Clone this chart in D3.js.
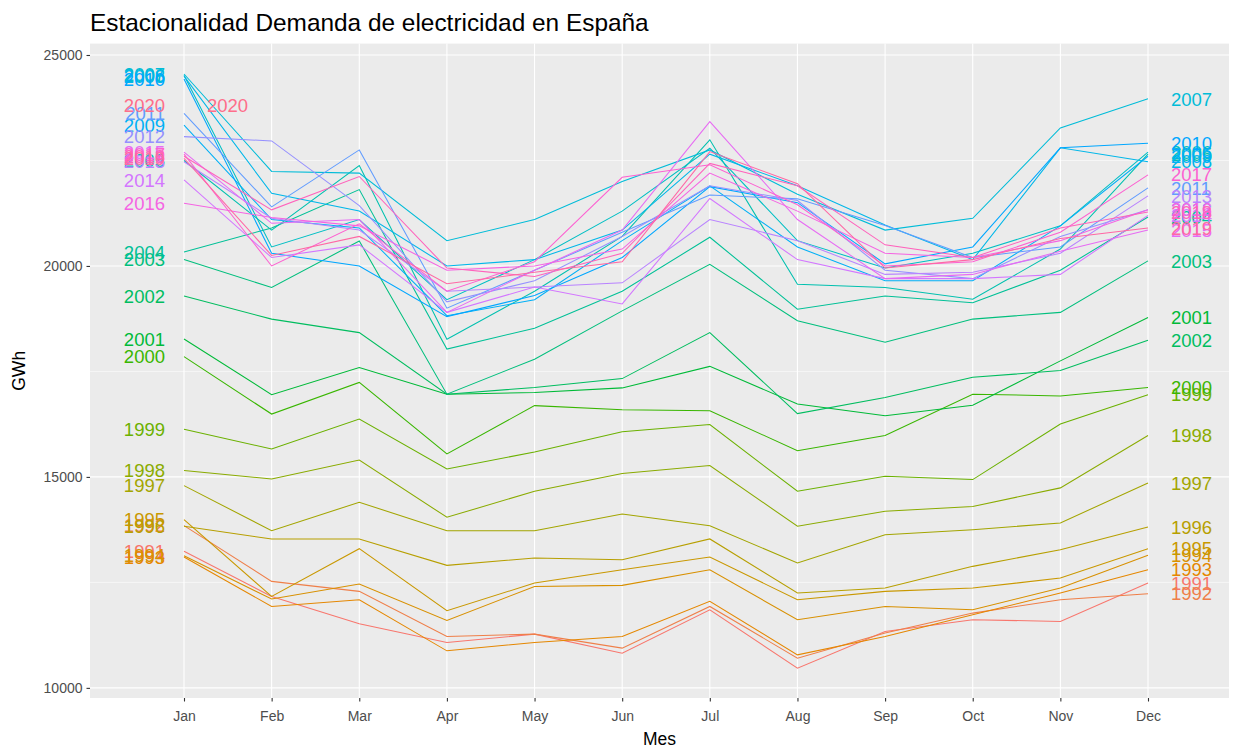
<!DOCTYPE html>
<html>
<head>
<meta charset="utf-8">
<script src="https://cdnjs.cloudflare.com/ajax/libs/d3/7.8.5/d3.min.js"></script>
<style>
  body { margin: 0; background: #fff; }
  svg text { font-family: "Liberation Sans", Arial, sans-serif; }
</style>
</head>
<body>
<svg id="chart" width="1241" height="748"></svg>
<script>
// ---- data (GWh per month) ----
var months = ['Jan', 'Feb', 'Mar', 'Apr', 'May', 'Jun', 'Jul', 'Aug', 'Sep', 'Oct', 'Nov', 'Dec'];
var yTicks = [10000, 15000, 20000, 25000];
var yMinor = [12500, 17500, 22500];

var y1991 = [13236, 12168, 11519, 11076, 11274, 10823, 11850, 10467, 11337, 11614, 11575, 12484];
var y1992 = [13845, 12524, 12287, 11218, 11274, 10942, 11930, 10704, 11300, 11772, 12089, 12231];
var y1993 = [13100, 11930, 12089, 10878, 11076, 11218, 12050, 10783, 11218, 11733, 12247, 12801];
var y1994 = [13133, 12105, 12461, 11598, 12405, 12429, 12800, 11614, 11930, 11851, 12366, 13141];
var y1995 = [13987, 12168, 13299, 11828, 12484, 12801, 13100, 12089, 12287, 12366, 12603, 13299];
var y1996 = [13829, 13529, 13529, 12904, 13078, 13038, 13530, 12247, 12366, 12880, 13275, 13813];
var y1997 = [14794, 13726, 14399, 13726, 13726, 14122, 13845, 12960, 13630, 13750, 13908, 14858];
var y1998 = [15150, 14950, 15400, 14043, 14660, 15080, 15270, 13830, 14185, 14300, 14740, 15980];
var y1999 = [16130, 15660, 16370, 15190, 15590, 16070, 16240, 14660, 15016, 14937, 16254, 16948];
var y2000 = [17850, 16490, 17240, 15544, 16690, 16590, 16570, 15620, 15980, 16960, 16920, 17120];
var y2001 = [18270, 16950, 17595, 16960, 17000, 17110, 17620, 16730, 16450, 16700, 17750, 18780];
var y2002 = [19290, 18740, 18420, 16960, 17120, 17330, 18420, 16500, 16880, 17360, 17520, 18240];
var y2003 = [20150, 19490, 20590, 16960, 17790, 18935, 20040, 18700, 18190, 18740, 18900, 20120];
var y2004 = [20330, 20900, 21810, 18030, 18525, 19400, 20680, 18975, 19290, 19130, 19900, 21160];
var y2005 = [22500, 20850, 22380, 18265, 19400, 20700, 22990, 19566, 19487, 19210, 20400, 22650];
var y2006 = [24520, 20450, 21100, 19200, 20150, 21300, 22790, 20600, 19950, 20300, 20950, 22700];
var y2007 = [24550, 22240, 22200, 20600, 21100, 22000, 22750, 21700, 20850, 21130, 23270, 23960];
var y2008 = [24500, 21720, 21300, 20000, 20150, 20850, 22650, 21900, 20970, 20150, 22800, 22470];
var y2009 = [23340, 21100, 20900, 18820, 19200, 20600, 21900, 20450, 19650, 19650, 20950, 22600];
var y2010 = [24430, 20300, 20000, 18800, 19300, 20200, 21880, 21500, 20050, 20450, 22800, 22910];
var y2011 = [23618, 21400, 22750, 19000, 19900, 20800, 21680, 21590, 20960, 20200, 20450, 21850];
var y2012 = [23065, 22963, 21430, 19150, 19650, 20700, 21900, 21550, 19900, 19700, 20700, 21330];
var y2013 = [22470, 21130, 20850, 19400, 19500, 19600, 21100, 20600, 19800, 19850, 20300, 21660];
var y2014 = [22040, 20200, 20500, 18900, 19500, 19100, 21600, 20150, 19700, 19700, 19800, 21200];
var y2015 = [22700, 21010, 21100, 18900, 19900, 20850, 23420, 21100, 19700, 19800, 20350, 20850];
var y2016 = [21485, 21150, 20950, 19900, 20000, 20400, 22200, 21300, 20300, 20200, 20600, 21330];
var y2017 = [22650, 20000, 21000, 19400, 20100, 22100, 22400, 21450, 20000, 20100, 20800, 22160];
var y2018 = [22600, 21330, 22120, 19950, 19750, 20300, 22430, 21900, 20500, 20200, 20900, 21280];
var y2019 = [22550, 20250, 20700, 19580, 19850, 20100, 22710, 21950, 19950, 20150, 20650, 20900];
var y2020 = [23800];

var years = [1991, 1992, 1993, 1994, 1995, 1996, 1997, 1998, 1999, 2000,
             2001, 2002, 2003, 2004, 2005, 2006, 2007, 2008, 2009, 2010,
             2011, 2012, 2013, 2014, 2015, 2016, 2017, 2018, 2019, 2020];
var values = [y1991, y1992, y1993, y1994, y1995, y1996, y1997, y1998, y1999, y2000,
              y2001, y2002, y2003, y2004, y2005, y2006, y2007, y2008, y2009, y2010,
              y2011, y2012, y2013, y2014, y2015, y2016, y2017, y2018, y2019, y2020];

// ggplot style hue palette (polarLUV, l = 65, c = 100)
function hcl2hex(h, c, l) {
  var wY = 100, wu = 0.1978398, wv = 0.4683363;
  var hr = h * Math.PI / 180;
  var U = c * Math.cos(hr), V = c * Math.sin(hr);
  var Y = wY * (l > 7.999592 ? Math.pow((l + 16) / 116, 3) : l / 903.3);
  var u = U / (13 * l) + wu, v = V / (13 * l) + wv;
  var X = 9 * Y * u / (4 * v);
  var Z = -X / 3 - 5 * Y + 3 * Y / v;
  var gam = function(t) { return t > 0.00304 ? 1.055 * Math.pow(t, 1 / 2.4) - 0.055 : 12.92 * t; };
  var rgb = [
    gam((3.240479 * X - 1.537150 * Y - 0.498535 * Z) / wY),
    gam((-0.969256 * X + 1.875992 * Y + 0.041556 * Z) / wY),
    gam((0.055648 * X - 0.204043 * Y + 1.057311 * Z) / wY)
  ].map(function(t) { return Math.round(Math.max(0, Math.min(1, t)) * 255); });
  return d3.rgb(rgb[0], rgb[1], rgb[2]).formatHex();
}
var colors = years.map(function(y, i) { return hcl2hex(15 + 360 * i / years.length, 100, 65); });

var series = years.map(function(y, i) {
  return { year: y, color: colors[i], pts: values[i].map(function(v, j) { return { m: j + 1, v: v }; }) };
});

/*************************** CHART *******************************/
var svg = d3.select('#chart');
var panel = { left: 90, right: 1229, top: 43.6, bottom: 698 };

var x = d3.scaleLinear().domain([1, 12]).range([184, 1148]);
var y = d3.scaleLinear().domain([9760, 25270]).range([panel.bottom, panel.top]);

svg.append('rect')
    .attr('x', panel.left).attr('y', panel.top)
    .attr('width', panel.right - panel.left).attr('height', panel.bottom - panel.top)
    .attr('fill', '#EBEBEB');

// grid
svg.selectAll('.minor').data(yMinor).enter().append('line')
    .attr('x1', panel.left).attr('x2', panel.right)
    .attr('y1', function(d) { return y(d); }).attr('y2', function(d) { return y(d); })
    .attr('stroke', '#fff').attr('stroke-width', 0.55);
svg.selectAll('.major').data(yTicks).enter().append('line')
    .attr('x1', panel.left).attr('x2', panel.right)
    .attr('y1', function(d) { return y(d); }).attr('y2', function(d) { return y(d); })
    .attr('stroke', '#fff').attr('stroke-width', 1.1);
svg.selectAll('.vgrid').data(months).enter().append('line')
    .attr('x1', function(d, i) { return x(i + 1); }).attr('x2', function(d, i) { return x(i + 1); })
    .attr('y1', panel.top).attr('y2', panel.bottom)
    .attr('stroke', '#fff').attr('stroke-width', 1.1);

// lines
var line = d3.line().x(function(d) { return x(d.m); }).y(function(d) { return y(d.v); });
svg.selectAll('.yr').data(series).enter().append('path')
    .attr('d', function(d) { return line(d.pts); })
    .attr('fill', 'none')
    .attr('stroke', function(d) { return d.color; })
    .attr('stroke-width', 1.05);

// year labels, left (January) and right (last month)
svg.selectAll('.lab-l').data(series).enter().append('text')
    .attr('x', x(1) - 19)
    .attr('y', function(d) { return y(d.pts[0].v); })
    .attr('dy', '0.36em')
    .attr('text-anchor', 'end')
    .attr('font-size', 18.5)
    .attr('fill', function(d) { return d.color; })
    .text(function(d) { return d.year; });
svg.selectAll('.lab-r').data(series).enter().append('text')
    .attr('x', function(d) { return x(d.pts[d.pts.length - 1].m) + 23; })
    .attr('y', function(d) { return y(d.pts[d.pts.length - 1].v); })
    .attr('dy', '0.36em')
    .attr('font-size', 18.5)
    .attr('fill', function(d) { return d.color; })
    .text(function(d) { return d.year; });

// axes
var yAxis = d3.axisLeft(y).tickValues(yTicks).tickSize(3.5).tickPadding(4).tickFormat(d3.format('d'));
var gy = svg.append('g').attr('transform', 'translate(' + panel.left + ',0)').call(yAxis);
var xAxis = d3.axisBottom(x).tickValues(d3.range(1, 13)).tickSize(3.5).tickPadding(10)
    .tickFormat(function(d) { return months[d - 1]; });
var gx = svg.append('g').attr('transform', 'translate(0,' + panel.bottom + ')').call(xAxis);
[gx, gy].forEach(function(g) {
  g.select('.domain').remove();
  g.selectAll('.tick line').attr('stroke', '#333333').attr('stroke-width', 1.1);
  g.selectAll('.tick text').attr('fill', '#4D4D4D').attr('font-size', 14)
    .attr('font-family', '"Liberation Sans", Arial, sans-serif');
});

svg.append('text')
    .attr('x', (panel.left + panel.right) / 2).attr('y', 745)
    .attr('text-anchor', 'middle').attr('font-size', 17.5).attr('fill', '#000')
    .text('Mes');
svg.append('text')
    .attr('transform', 'translate(25,' + (panel.top + panel.bottom) / 2 + ') rotate(-90)')
    .attr('text-anchor', 'middle').attr('font-size', 17.5).attr('fill', '#000')
    .text('GWh');
svg.append('text')
    .attr('x', panel.left).attr('y', 31)
    .attr('font-size', 24.4).attr('fill', '#000')
    .text('Estacionalidad Demanda de electricidad en España');
</script>
</body>
</html>
